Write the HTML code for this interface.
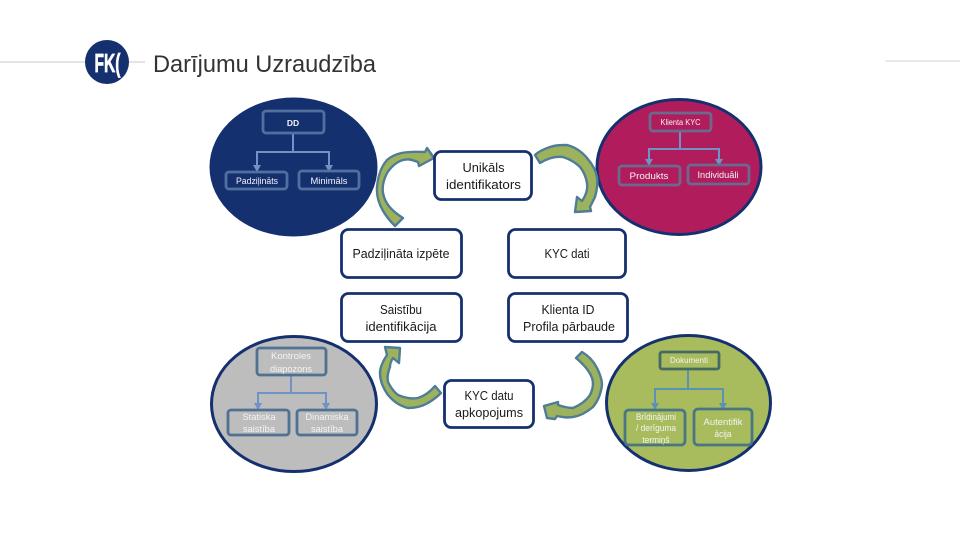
<!DOCTYPE html>
<html><head><meta charset="utf-8"><style>
html,body{margin:0;padding:0;background:#fff}
svg{display:block}
text{font-family:"Liberation Sans",sans-serif;text-anchor:middle}
.d{fill:#1a1a1a;font-size:12.500px}
.w{fill:#f4f4f4;font-size:9.500px}
.b{fill:#fff;stroke:#14306f;stroke-width:2.800}
.i{fill:none;stroke-width:2.800}
.e{stroke:#14306f;stroke-width:3}
.c{fill:none;stroke:#6f93c4;stroke-width:2}
.a{stroke:#4f7c96;stroke-width:2.400;fill:#9db25c;stroke-linejoin:round}
</style></head><body>
<svg width="960" height="540" viewBox="0 0 960 540" xmlns="http://www.w3.org/2000/svg">
<rect width="960" height="540" fill="#fff"/>
<line x1="0" y1="62" x2="145" y2="62" stroke="#c9c9c9"/>
<line x1="885" y1="61" x2="960" y2="61" stroke="#d4d4d4"/>
<circle cx="107" cy="62" r="22" fill="#14306f"/>
<text x="107.500" y="72" style="font-size:26px;font-weight:bold;fill:#fff;stroke:#fff;stroke-width:.7" textLength="26" lengthAdjust="spacingAndGlyphs">FK(</text>
<text x="264.500" y="72" style="font-size:24px;fill:#333" textLength="223" lengthAdjust="spacingAndGlyphs">Darījumu Uzraudzība</text>

<ellipse class="e" cx="293.500" cy="167" rx="82.500" ry="68" fill="#14306f"/>
<ellipse class="e" cx="679" cy="167" rx="82" ry="67.500" fill="#b11c5c"/>
<ellipse class="e" cx="294" cy="404" rx="82.500" ry="67.500" fill="#bdbdbd"/>
<ellipse class="e" cx="688.500" cy="403" rx="82" ry="67.500" fill="#a8bc5e"/>

<path class="c" d="M293 134V152M257 167V152H329V167"/>
<path d="M253 165h8l-4 7zM325 165h8l-4 7z" fill="#6f93c4"/>
<rect class="i" x="263" y="111" width="61" height="22" rx="3" stroke="#51709f"/>
<rect class="i" x="226" y="172" width="61" height="17" rx="3" stroke="#51709f"/>
<rect class="i" x="299" y="171" width="60" height="18" rx="3" stroke="#51709f"/>
<text class="w" x="293" y="126" style="font-weight:bold;font-size:8.500px">DD</text>
<text class="w" x="257" y="184" textLength="42" lengthAdjust="spacingAndGlyphs">Padziļināts</text>
<text class="w" x="329" y="184" textLength="37" lengthAdjust="spacingAndGlyphs">Minimāls</text>

<path class="c" d="M680 131V148M649 160V149H719V160"/>
<path d="M645 159h8l-4 7zM715 159h8l-4 7z" fill="#6f93c4"/>
<rect class="i" x="650" y="113" width="61" height="18" rx="3" stroke="#6b6a8e"/>
<rect class="i" x="619" y="166" width="61" height="19" rx="3" stroke="#6b6a8e"/>
<rect class="i" x="688" y="165" width="61" height="19" rx="3" stroke="#6b6a8e"/>
<text class="w" x="680.500" y="125" style="font-size:8px" textLength="40" lengthAdjust="spacingAndGlyphs">Klienta KYC</text>
<text class="w" x="649" y="179" textLength="39" lengthAdjust="spacingAndGlyphs">Produkts</text>
<text class="w" x="718" y="178" textLength="41" lengthAdjust="spacingAndGlyphs">Individuāli</text>

<path class="c" d="M291 376V393M258 404V393H326V404"/>
<path d="M254 403h8l-4 7zM322 403h8l-4 7z" fill="#6f93c4"/>
<rect class="i" x="257" y="348" width="69" height="27" rx="3" stroke="#4f7192"/>
<rect class="i" x="228" y="410" width="61" height="25" rx="3" stroke="#4f7192"/>
<rect class="i" x="297" y="410" width="60" height="25" rx="3" stroke="#4f7192"/>
<text class="w" x="291" y="359" textLength="40" lengthAdjust="spacingAndGlyphs">Kontroles</text>
<text class="w" x="291" y="372" textLength="42" lengthAdjust="spacingAndGlyphs">diapozons</text>
<text class="w" x="259" y="420" textLength="33" lengthAdjust="spacingAndGlyphs">Statiska</text>
<text class="w" x="259" y="432" textLength="32" lengthAdjust="spacingAndGlyphs">saistība</text>
<text class="w" x="327" y="420" textLength="43" lengthAdjust="spacingAndGlyphs">Dinamiska</text>
<text class="w" x="327" y="432" textLength="32" lengthAdjust="spacingAndGlyphs">saistība</text>

<path class="c" d="M688 369V389M655 404V389H723V404" style="stroke:#5b93b8"/>
<path d="M651 403h8l-4 7zM719 403h8l-4 7z" fill="#5b93b8"/>
<rect class="i" x="660" y="352" width="59" height="17" rx="2" stroke="#466a62"/>
<rect class="i" x="625" y="410" width="60" height="35" rx="4" stroke="#4a7583"/>
<rect class="i" x="694" y="409" width="58" height="36" rx="4" stroke="#4a7583"/>
<text class="w" x="689" y="363" style="font-size:8.500px" textLength="38" lengthAdjust="spacingAndGlyphs">Dokumenti</text>
<text class="w" x="656" y="420" style="font-size:9px" textLength="40" lengthAdjust="spacingAndGlyphs">Brīdinājumi</text>
<text class="w" x="656" y="431" style="font-size:9px" textLength="40" lengthAdjust="spacingAndGlyphs">/ derīguma</text>
<text class="w" x="656" y="443" style="font-size:9px" textLength="27" lengthAdjust="spacingAndGlyphs">termiņš</text>
<text class="w" x="723" y="425" textLength="39" lengthAdjust="spacingAndGlyphs">Autentifik</text>
<text class="w" x="723" y="437" textLength="17" lengthAdjust="spacingAndGlyphs">ācija</text>

<path class="a" d="M395 226C382 213 376 200 377 187C378 175 381 167 387 160C395 153 405 151 425 152L427 148L434 158L419 166L418 162C410 159 408 159 403 160C396 162 391 167 387 173C383 181 382 187 383 193C385 204 392 211 403 218Z"/>
<path class="a" d="M535 155C539 151 544 149 550 147C556 145 561 145 567 145C575 147 582 152 587 158C593 165 596 171 597 177C598 184 597 190 595 197L590 207L591 211L575 212L577 197L582 201C586 195 588 189 587 183C586 177 584 172 580 167C575 162 569 159 563 157C555 156 548 158 540 163Z"/>
<path class="a" d="M441 393C437 397 433 400 428 403C421 407 415 408 408 408C400 406 393 401 388 395C383 388 380 381 380 373C380 367 383 361 387 355L385 347L400 348L399 363L393 358C391 361 390 364 390 367C388 372 387 377 388 382C391 388 394 392 398 395C405 398 412 399 418 398C424 396 430 392 435 386Z"/>
<path class="a" d="M582 352C589 356 594 362 597 368C600 374 602 379 602 385C601 393 598 401 593 407C587 412 580 416 573 417C567 418 562 417 557 416L555 419L547 418L544 406L558 402L558 405C564 407 568 408 573 408C580 405 586 401 590 395C593 389 594 384 592 378C589 370 583 364 576 358Z"/>

<rect class="b" x="434.500" y="151.500" width="97" height="48" rx="7"/>
<rect class="b" x="341.500" y="229.500" width="120" height="48" rx="7"/>
<rect class="b" x="508.500" y="229.500" width="117" height="48" rx="7"/>
<rect class="b" x="341.500" y="293.500" width="120" height="48" rx="7"/>
<rect class="b" x="508.500" y="293.500" width="119" height="48" rx="7"/>
<rect class="b" x="444.500" y="380.500" width="89" height="47" rx="7"/>

<text class="d" x="483.500" y="172" textLength="42" lengthAdjust="spacingAndGlyphs">Unikāls</text>
<text class="d" x="483.500" y="189" textLength="75" lengthAdjust="spacingAndGlyphs">identifikators</text>
<text class="d" x="401" y="258" textLength="97" lengthAdjust="spacingAndGlyphs">Padziļināta izpēte</text>
<text class="d" x="567" y="258" textLength="45" lengthAdjust="spacingAndGlyphs">KYC dati</text>
<text class="d" x="401" y="314" textLength="42" lengthAdjust="spacingAndGlyphs">Saistību</text>
<text class="d" x="401" y="331" textLength="71" lengthAdjust="spacingAndGlyphs">identifikācija</text>
<text class="d" x="568" y="314" textLength="53" lengthAdjust="spacingAndGlyphs">Klienta ID</text>
<text class="d" x="569" y="331" textLength="92" lengthAdjust="spacingAndGlyphs">Profila pārbaude</text>
<text class="d" x="489" y="400" textLength="49" lengthAdjust="spacingAndGlyphs">KYC datu</text>
<text class="d" x="489" y="417" textLength="68" lengthAdjust="spacingAndGlyphs">apkopojums</text>
</svg>
</body></html>
